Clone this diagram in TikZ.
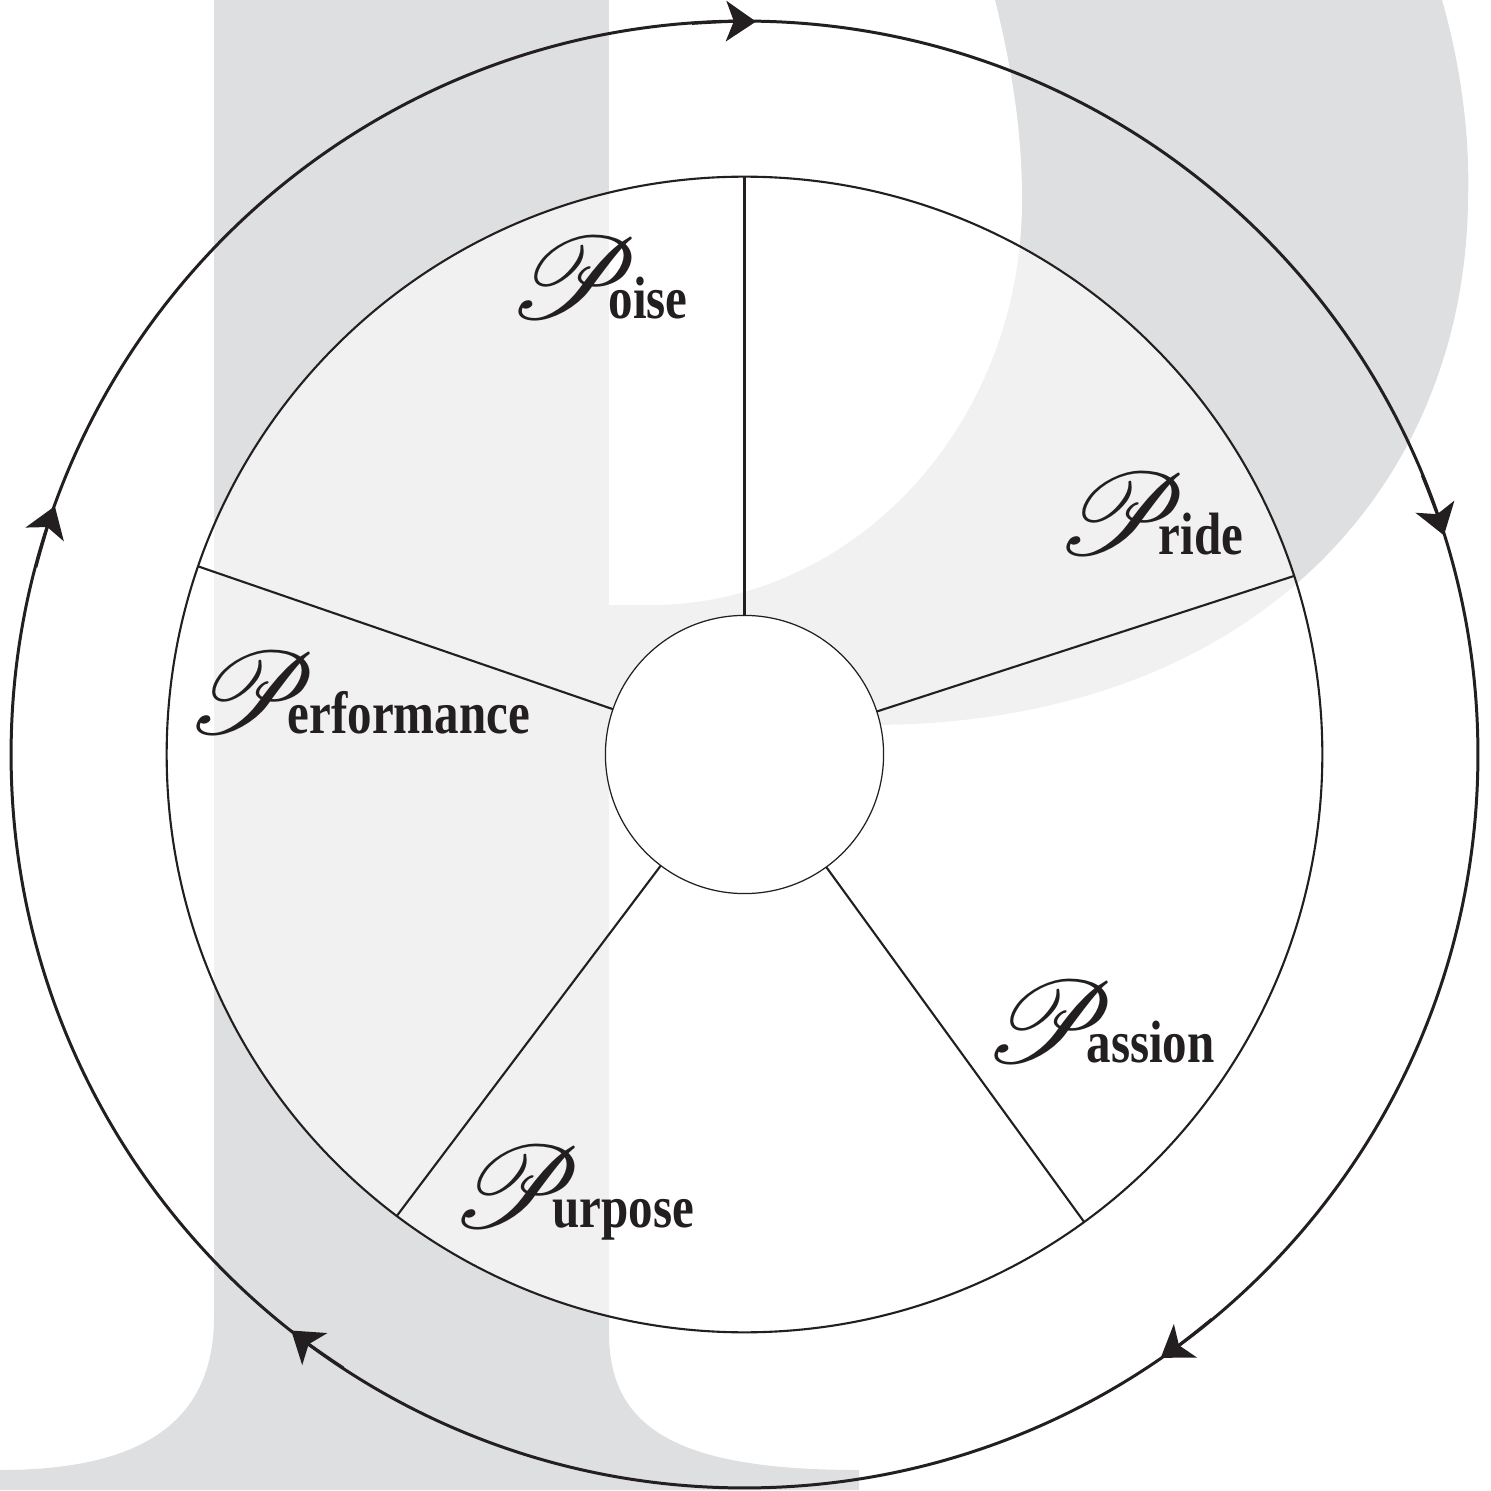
\documentclass[tikz,border=0pt]{standalone}
\usepackage{fontspec}
\setmainfont{Liberation Serif}
\usepackage{mathrsfs}
\usepackage{graphicx}
\usetikzlibrary{arrows.meta}
\definecolor{pgray}{RGB}{222,223,225}
\definecolor{ink}{RGB}{35,31,32}
\tikzset{
 ring/.style={circle, draw=ink, inner sep=0pt, outer sep=0pt},
 spoke/.style={draw=ink, line width=0.6pt},
 flow/.style={draw=ink, line width=0.85pt, -{Stealth[length=8.5pt,width=11.5pt,inset=2.2pt]}},
 scriptP/.style={anchor=base west, inner sep=0pt, font=\fontsize{41}{41}\selectfont, text=ink},
 word/.style={anchor=base west, inner sep=0pt, font=\fontsize{17}{17}\selectfont\bfseries, text=ink},
}
\newcommand{\wrd}[1]{\scalebox{0.82}[1]{#1}}
\newcommand{\scP}{\scalebox{1.38}[1.33]{$\mathscr{P}$}}
\begin{document}
\begin{tikzpicture}[x=0.01cm,y=0.01cm]
\useasboundingbox (0,0) rectangle (1491,1490);
\coordinate (c) at (744.5,735.5);
% background letter P: stem with feet
\fill[pgray] (214,1490) -- (214,173) .. controls (214,60) and (130,20) .. (0,20) -- (0,0) -- (859,0) -- (859,20) .. controls (680,20) and (609,60) .. (609,157) -- (609,1490) -- cycle;
% bowl
\fill[pgray] (600,1490) -- (1442,1490) .. controls (1462,1420) and (1470,1350) .. (1468,1290) .. controls (1465,1000) and (1250,765) .. (870,765) -- (600,765) -- cycle;
% counter
\fill[white] (609,1490) -- (995,1490) .. controls (1012,1420) and (1022,1360) .. (1022,1290) .. controls (1022,1066) and (855,885) .. (650,885) -- (609,885) -- cycle;
% rings
\node[ring, line width=0.85pt, minimum size=14.66cm] (outer) at (c) {};
\node[ring, line width=0.6pt, fill=white, fill opacity=0.576, minimum size=11.55cm] (rim) at (c) {};
\node[ring, line width=0.35pt, fill=white, minimum size=2.78cm] (hub) at (c) {};
% spokes
\foreach \a in {90.5,18.8,306,233.2,161.6}
  \draw[spoke] (hub.\a) -- (rim.\a);
% arrows on the outer ring
\foreach \a in {89.1,17.4,-55.4,-128.2,160.2}
  \draw[flow, shift={(c)}] (\a+5:733) arc[start angle=\a+5, end angle=\a, radius=733];
% labels
\node[scriptP] (p1) at (507,1171) {\scP};
\node[word] (w1) at (608,1171) {\wrd{oise}};
\node[scriptP] (p2) at (1055,935) {\scP};
\node[word] (w2) at (1158,935) {\wrd{ride}};
\node[scriptP] (p3) at (185,756) {\scP};
\node[word] (w3) at (287,756) {\wrd{erformance}};
\node[scriptP] (p4) at (983,428) {\scP};
\node[word] (w4) at (1086,428) {\wrd{assion}};
\node[scriptP] (p5) at (450,263) {\scP};
\node[word] (w5) at (552,263) {\wrd{urpose}};
\end{tikzpicture}
\end{document}
